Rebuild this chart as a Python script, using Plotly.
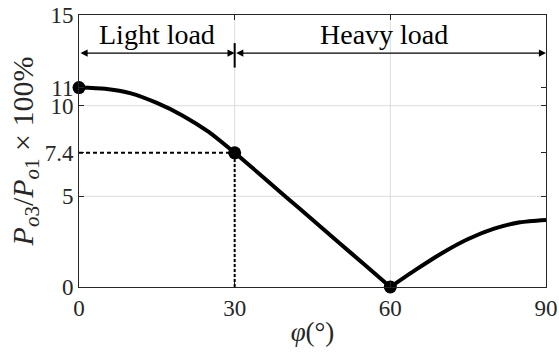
import plotly.graph_objects as go

# data
phi = [0, 5, 10, 15, 20, 25, 30, 35, 40, 45, 50, 55, 60, 65, 70, 75, 80, 85, 90]
ratio = [11.0, 10.93, 10.68, 10.15, 9.45, 8.55, 7.4, 6.18, 4.94, 3.71, 2.47, 1.24, 0.0,
         0.97, 1.88, 2.65, 3.22, 3.57, 3.7]
key_phi = [0, 30, 60]
key_ratio = [11.0, 7.4, 0.0]
x_ticks = [0, 30, 60, 90]
y_ticks = [0, 5, 7.4, 10, 11, 15]
y_tick_text = ["0", "5", "7.4", "10", "11", "15"]
grid_x = [30, 60]
grid_y = [5, 10]
region_split = 30
arrow_y = 12.9
label_y = 13.95
light_label = "Light load"
heavy_label = "Heavy load"

FONT = "'Liberation Serif', 'DejaVu Serif', serif"
split_idx = phi.index(60)

fig = go.Figure()
fig.add_trace(go.Scatter(x=phi[:split_idx + 1], y=ratio[:split_idx + 1], mode="lines",
                         line=dict(color="black", width=4, shape="spline", smoothing=0.6),
                         showlegend=False, cliponaxis=False))
fig.add_trace(go.Scatter(x=phi[split_idx:], y=ratio[split_idx:], mode="lines",
                         line=dict(color="black", width=4, shape="spline", smoothing=0.6),
                         showlegend=False, cliponaxis=False))
fig.add_trace(go.Scatter(x=key_phi, y=key_ratio, mode="markers",
                         marker=dict(color="black", size=13),
                         showlegend=False, cliponaxis=False))

shapes = []
for gx in grid_x:
    shapes.append(dict(type="line", xref="x", yref="y", x0=gx, x1=gx, y0=0, y1=15,
                       line=dict(color="#dcdcdc", width=1), layer="below"))
for gy in grid_y:
    shapes.append(dict(type="line", xref="x", yref="y", x0=0, x1=90, y0=gy, y1=gy,
                       line=dict(color="#dcdcdc", width=1), layer="below"))
# dashed guide lines to the 30-degree point
shapes.append(dict(type="line", xref="x", yref="y", x0=0, x1=key_phi[1], y0=key_ratio[1], y1=key_ratio[1],
                   line=dict(color="black", width=2, dash="4px,3px")))
shapes.append(dict(type="line", xref="x", yref="y", x0=key_phi[1], x1=key_phi[1], y0=0, y1=key_ratio[1],
                   line=dict(color="black", width=2, dash="3px,2px")))
# divider bar
shapes.append(dict(type="line", xref="x", yref="y", x0=region_split, x1=region_split,
                   y0=arrow_y - 0.8, y1=arrow_y + 0.55, line=dict(color="black", width=2)))

annotations = [
    dict(x=region_split, y=arrow_y, ax=0, ay=arrow_y, xref="x", yref="y", axref="x", ayref="y",
         text="", showarrow=True, arrowhead=2, startarrowhead=2, arrowside="end+start",
         arrowsize=1.3, arrowwidth=1.1, arrowcolor="black", standoff=0, startstandoff=0),
    dict(x=90, y=arrow_y, ax=region_split, ay=arrow_y, xref="x", yref="y", axref="x", ayref="y",
         text="", showarrow=True, arrowhead=2, startarrowhead=2, arrowside="end+start",
         arrowsize=1.3, arrowwidth=1.1, arrowcolor="black", standoff=0, startstandoff=0),
    dict(x=region_split / 2, y=label_y, xref="x", yref="y", text=light_label, showarrow=False,
         font=dict(family=FONT, size=28, color="black")),
    dict(x=(region_split + 90) / 2 - 1.3, y=label_y, xref="x", yref="y", text=heavy_label, showarrow=False,
         font=dict(family=FONT, size=28, color="black")),
]

axis_common = dict(showline=True, linecolor="#262626", linewidth=1, mirror="ticks",
                   ticks="inside", ticklen=5, tickcolor="#262626", showgrid=False, zeroline=False,
                   automargin=False,
                   tickfont=dict(family=FONT, size=23, color="#262626"))

fig.update_layout(
    width=559, height=360,
    margin=dict(l=79, r=13, t=15, b=73),
    plot_bgcolor="white", paper_bgcolor="white",
    font=dict(family=FONT),
    shapes=shapes, annotations=annotations,
    xaxis=dict(range=[0, 90], tickvals=x_ticks, ticktext=[str(v) for v in x_ticks],
               title=dict(text="<i>φ</i>(°)", font=dict(family=FONT, size=27, color="#262626"), standoff=2),
               **axis_common),
    yaxis=dict(range=[0, 15], tickvals=y_ticks, ticktext=y_tick_text,
               title=dict(text="<i>P</i><sub><i>o</i>3</sub>/<i>P</i><sub><i>o</i>1</sub> × 100%",
                          font=dict(family=FONT, size=30, color="#262626"), standoff=2),
               **axis_common),
)

fig.write_html("out.html")
